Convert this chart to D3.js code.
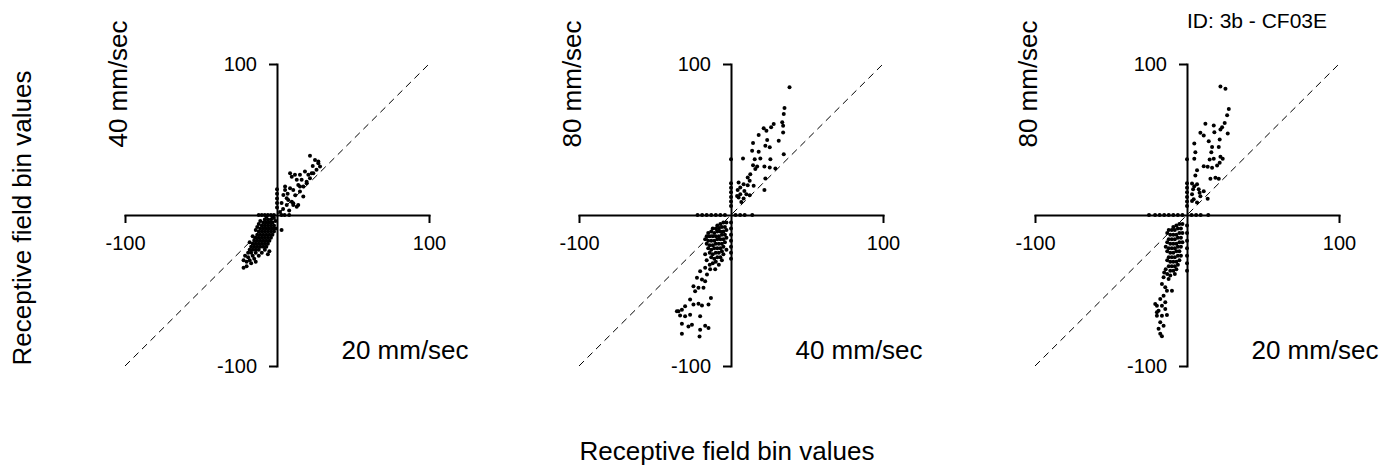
<!DOCTYPE html>
<html>
<head>
<meta charset="utf-8">
<script src="https://cdn.jsdelivr.net/npm/d3@7"></script>
<style>
  html, body { margin: 0; padding: 0; background: #fff; }
  svg { display: block; }
  text { font-family: "Liberation Sans", Arial, Helvetica, sans-serif; fill: #000; }
</style>
</head>
<body>
<script>
// ---------------- DATA ----------------
const tickValues = [-100, 100];
const tickLabels = ["-100", "100"];
const yLabels = ["40 mm/sec", "80 mm/sec", "80 mm/sec"];
const xLabels = ["20 mm/sec", "40 mm/sec", "20 mm/sec"];
const axisTitle = "Receptive field bin values";
const idLabel = "ID: 3b - CF03E";

// Panel 1: 20 mm/sec (x) vs 40 mm/sec (y)
const panel1Points = [
  [21.7,39.2],[25,36.5],[27.2,34.3],[23.5,32.5],[18.4,28.8],[20.6,26.6],[22.8,27.7],[8.6,27.7],[11.8,26.6],
  [16.2,23.3],[14,19.9],[17.3,18.8],[10.7,16.6],[15.1,15.5],[5.3,16.6],[4.2,13.3],[7.4,10],[10.7,6.6],
  [6.4,6.6],[13,5.5],[9.7,8.8],[5.3,18.8],[19.5,22.1],[21.7,24.4],[26,29.9],[28.3,32.1],[13,23.3],[15.1,18.8],
  [27.2,35.5],[15.1,26.6],[9.7,25.4],[8.6,17.7],[6.4,11.1],[10.7,7.8],[14,6.6],[17.3,12.2],[19.5,21.1],
  [23.9,27.7],[12,13],[7,14],[3,8],[4,4],[8,3],[2,2],
  [0,5],[0,8],[0,11],[0,14],[0,17],[-2,0],[-4,0],[-6,0],[-8,0],[-10,0],[-12,0],[3,0],[5,0],[8,0],
  [-2,-2],[-4,-3],[-6,-3],[-8,-3],[-3,-5],[-5,-5],[-7,-5],[-9,-5],[-11,-4],[-2,-7],[-4,-7],[-6,-7],
  [-8,-7],[-10,-7],[-12,-6],[-3,-9],[-5,-9],[-7,-9],[-9,-9],[-11,-9],[-13,-8],[-2,-11],[-4,-11],[-6,-11],
  [-8,-11],[-10,-11],[-12,-11],[-14,-10],[-3,-13],[-5,-13],[-7,-13],[-9,-13],[-11,-13],[-13,-13],[-4,-15],
  [-6,-15],[-8,-15],[-10,-15],[-12,-15],[-14,-15],[-16,-14],[-5,-17],[-7,-17],[-9,-17],[-11,-17],[-13,-17],
  [-15,-17],[-6,-19],[-8,-19],[-10,-19],[-12,-19],[-14,-19],[-16,-19],[-18,-18],[-7,-21],[-9,-21],[-11,-21],
  [-13,-21],[-15,-21],[-17,-21],[-8,-23],[-12,-23],[-14,-23],[-16,-23],[-18,-23],[-10,-25],[-14,-25],
  [-17,-25],[-19,-25],[-5,-24],[-6,-26],[-12,-27],[-16,-27],[-19,-28],[-21,-27],[-15,-29],[-18,-30],
  [-20,-31],[-22,-30],[-17,-32],[-20,-34],[-22,-35],[-14,-31],[3,-10],[-1,-4],[-1,-9],[-3,-1],[-7,-1]
];

// Panel 2: 40 mm/sec (x) vs 80 mm/sec (y)
const panel2Points = [
  [38.5,84.6],[35.2,70.9],[34.7,66.9],[33.7,61.4],[34.3,59.1],[34.3,54.7],[28.1,60.3],[26.4,58.1],[21.5,57.4],
  [23.3,55.8],[18.2,53],[23.8,49.6],[31.4,49.2],[14.5,47.6],[22.6,45.8],[25.5,44.8],[13.9,42.5],[18.2,41.9],
  [34.7,40.3],[7.9,37.5],[15.6,37],[19.3,37.5],[25.9,37],[14.5,33],[17.2,32.2],[22,32.2],[16,30.4],[25.5,31.5],
  [29.2,30.8],[12.7,27],[11,24.8],[12.3,22.6],[22.6,24.2],[5,21.5],[8.3,20.4],[11,19.7],[14.9,19.3],[6.1,18.2],
  [4.4,16.6],[8.8,15.9],[22,16.6],[6.1,13.8],[10.1,13.8],[5,11.6],[8.3,10.9],[12.3,13.1],[6.8,8.6],[4,12.6],
  [0,37],[0,6],[0,9],[0,12],[0,15],[0,18],[0,21],[-4,0],[-7,0],[-10,0],[-13,0],[-16,0],[-19,0],[-22,0],
  [3,0],[6,0],[9,0],[14,0],
  [-3,-5],[-5,-5],[-7,-6],[-9,-7],[-4,-8],[-6,-8],[-8,-9],[-10,-9],[-12,-9],[-3,-10],[-5,-11],[-7,-11],
  [-9,-11],[-11,-12],[-13,-11],[-15,-12],[-4,-13],[-6,-13],[-8,-14],[-10,-14],[-12,-14],[-14,-14],[-16,-14],
  [-3,-15],[-5,-16],[-7,-16],[-9,-16],[-11,-17],[-13,-17],[-15,-17],[-17,-16],[-4,-18],[-6,-19],[-8,-19],
  [-10,-19],[-12,-20],[-14,-20],[-16,-19],[-5,-21],[-7,-22],[-9,-22],[-11,-22],[-13,-23],[-15,-22],[-3,-23],
  [-6,-24],[-8,-25],[-10,-25],[-12,-26],[-14,-25],[-5,-26],[-7,-28],[-9,-28],[-11,-29],[-13,-28],[-6,-30],
  [-10,-31],[-12,-32],[-8,-33],[-14,-33],[-16,-30],[-17,-26],
  [-17,-35],[-13.7,-36],[-10.4,-36],[-20.3,-37.2],[-15.8,-39.4],[-19.1,-42.7],[-17,-43.9],[-22.4,-41.6],
  [-24.7,-47.2],[-21.4,-48.2],[-18.1,-48.2],[-23.6,-50.5],[-26.9,-56],[-21.4,-58.7],[-19.1,-60],[-24.7,-59.3],
  [-13.2,-54.9],[-14.8,-59.3],[-30.2,-60.5],[-32.3,-62.7],[-34.6,-63.8],[-26.9,-66],[-30.2,-67.1],[-33.5,-66.6],
  [-20.3,-67.1],[-32.3,-72],[-28,-73.8],[-17,-73.3],[-14.8,-74.8],[-20.3,-76],[-32.3,-78.6],[-20.7,-80.4],
  [-25.7,-72.6],[-35.6,-63.8],
  [0,-5],[0,-9],[0,-13],[0,-17],[0,-21],[0,-25],[0,-29]
];

// Panel 3: 20 mm/sec (x) vs 80 mm/sec (y)
const panel3Points = [
  [22,85.1],[25.3,83.6],[27.5,70.2],[26.4,66],[24.8,61],[23.1,58.1],[22,56.6],[26.8,53.9],[12.1,60.5],
  [17.6,59.2],[8.8,54.4],[11,52.6],[18,54.8],[14.3,48.8],[21.5,50],[4.8,47.3],[16.5,45.1],[20.9,45.1],
  [5.5,41.6],[16,41.6],[22,38.5],[4.8,37.2],[14.9,36.8],[17.6,37.2],[23.5,37.2],[11,32.3],[13.6,31.9],
  [16.5,31.3],[19.8,32.8],[21.5,34.6],[6.6,29.7],[5.5,26.2],[15.4,24],[18.7,24.7],[20.9,24],[3.3,20.9],
  [4.8,19.1],[6.6,20.3],[4,17],[7.7,17],[11,15.8],[3.3,13.7],[8.8,12.5],[4.4,10.4],[13.6,10.8],[6.6,8.2],
  [3.3,9.2],[8.3,14.8],
  [0,37],[0,6],[0,9],[0,12],[0,15],[0,18],[0,21],[-3,0],[-6,0],[-9,0],[-12,0],[-15,0],[-18,0],[-21,0],
  [-25,0],[3,0],[6,0],[9,0],[14,0],
  [-3,-6],[-5,-6],[-7,-7],[-9,-8],[-4,-9],[-6,-9],[-8,-10],[-10,-10],[-12,-10],[-3,-12],[-5,-12],[-7,-13],
  [-9,-13],[-11,-13],[-13,-12],[-4,-15],[-6,-15],[-8,-16],[-10,-16],[-12,-16],[-3,-18],[-5,-18],[-7,-19],
  [-9,-19],[-11,-19],[-13,-18],[-4,-21],[-6,-21],[-8,-22],[-10,-22],[-12,-22],[-14,-21],[-5,-24],[-7,-24],
  [-9,-25],[-11,-25],[-13,-24],[-4,-27],[-6,-27],[-8,-28],[-10,-28],[-12,-28],[-5,-30],[-7,-31],[-9,-31],
  [-11,-31],[-13,-30],[-6,-33],[-8,-34],[-10,-34],[-12,-34],[-7,-36],[-9,-37],[-11,-37],[-14,-36],[-8,-39],
  [-11,-40],[-13,-39],[-15,-38],
  [-15.4,-41.3],[-12.1,-42.4],[-16.5,-45.7],[-14.3,-47.9],[-13.2,-50.2],[-9.9,-50.2],[-15.4,-53.5],
  [-17.6,-55.6],[-14.3,-57.8],[-19.8,-60.1],[-16.5,-60.1],[-18.7,-63.4],[-14.3,-62.2],[-19.8,-66.7],
  [-16.5,-66.7],[-13.2,-66.2],[-17.6,-71],[-15.4,-73.3],[-18.7,-75.4],[-17.6,-78.7],[-16.5,-80.3],
  [-20.9,-59],[-19.8,-64.4],
  [0,-7],[0,-12],[0,-17],[0,-22],[0,-27],[0,-32],[0,-37]
];

const panelPoints = [panel1Points, panel2Points, panel3Points];

// ---------------- LAYOUT ----------------
const W = 1392, H = 469;
const xRanges = [[125, 429], [579, 883], [1035, 1339]];
const yRange = [366, 64];
const font = '"Liberation Sans", Arial, Helvetica, sans-serif';
const fmt = d => tickLabels[tickValues.indexOf(d)];

const svg = d3.select("body").append("svg")
  .attr("width", W).attr("height", H);

const y = d3.scaleLinear().domain([-100, 100]).range(yRange);

panelPoints.forEach((pts, i) => {
  const x = d3.scaleLinear().domain([-100, 100]).range(xRanges[i]);
  const g = svg.append("g");
  const x0 = x(0), y0 = y(0);

  // dashed identity line
  g.append("line")
    .attr("x1", x(-100)).attr("y1", y(-100))
    .attr("x2", x(100)).attr("y2", y(100))
    .attr("stroke", "#000").attr("stroke-width", 1)
    .attr("stroke-dasharray", "7,5");

  // x axis (through y = 0)
  const xAxis = d3.axisBottom(x).tickValues(tickValues)
    .tickSize(8).tickSizeOuter(0).tickPadding(13).tickFormat(fmt);
  const gx = g.append("g").attr("transform", `translate(0,${y0})`).call(xAxis);

  // y axis (through x = 0)
  const yAxis = d3.axisLeft(y).tickValues(tickValues)
    .tickSize(8).tickSizeOuter(0).tickPadding(12).tickFormat(fmt);
  const gy = g.append("g").attr("transform", `translate(${x0},0)`).call(yAxis);

  [gx, gy].forEach(a => {
    a.select(".domain").attr("stroke", "#000").attr("stroke-width", 2).attr("stroke-linecap", "square");
    a.selectAll(".tick line").attr("stroke", "#000").attr("stroke-width", 2);
    a.selectAll(".tick text").attr("font-size", 20).attr("font-family", font).attr("fill", "#000");
  });

  // points
  g.append("g").selectAll("circle").data(pts).join("circle")
    .attr("cx", d => x(d[0])).attr("cy", d => y(d[1]))
    .attr("r", 2).attr("fill", "#000");

  // panel labels
  g.append("text")
    .attr("transform", `translate(${x0 - 150},84) rotate(-90)`)
    .attr("text-anchor", "middle").attr("font-size", 26)
    .text(yLabels[i]);
  g.append("text")
    .attr("x", x0 + 128).attr("y", 359)
    .attr("text-anchor", "middle").attr("font-size", 26)
    .text(xLabels[i]);
});

// ID label
svg.append("text").attr("x", 1187).attr("y", 28)
  .attr("font-size", 21).text(idLabel);

// global axis titles
svg.append("text")
  .attr("transform", "translate(31,218) rotate(-90)")
  .attr("text-anchor", "middle").attr("font-size", 26)
  .text(axisTitle);
svg.append("text")
  .attr("x", 727).attr("y", 460)
  .attr("text-anchor", "middle").attr("font-size", 26)
  .text(axisTitle);
</script>
</body>
</html>
